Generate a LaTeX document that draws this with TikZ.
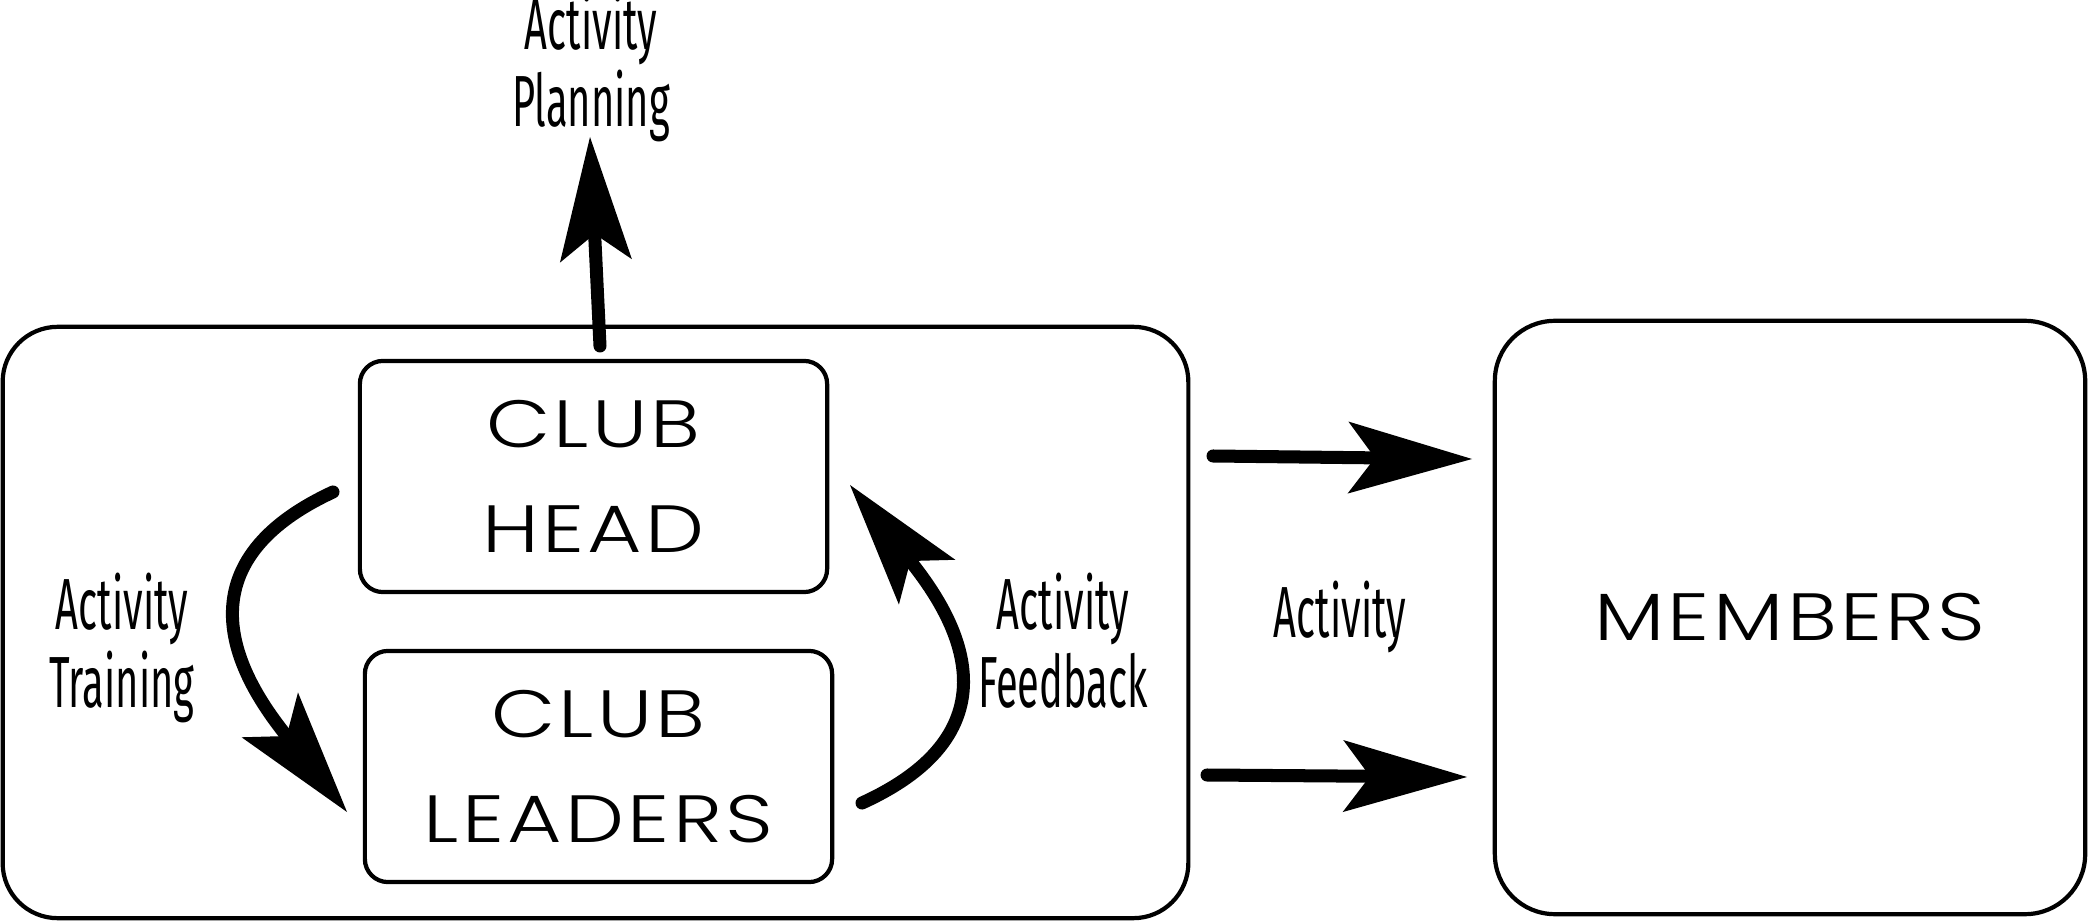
\documentclass[tikz,border=0pt]{standalone}
\usepackage{fontspec}
\usetikzlibrary{arrows.meta}
\newfontfamily\geofont{Poppins}[UprightFont=* Light, FakeStretch=1.25, LetterSpace=5]
\newfontfamily\narrowfont{Fira Sans}[FakeStretch=0.55]
\tikzset{
	box/.style={draw, line width=1.2pt, rounded corners=0.23cm, align=center, font=\geofont\fontsize{19}{29.9}\selectfont},
	note/.style={align=center, font=\narrowfont\fontsize{20.6}{21.9}\selectfont},
	flow/.style={line width=3.7pt, line cap=round, -{Stealth[length=12.4mm, width=7.2mm, inset=2.7mm, line width=0pt]}}
}

\begin{document}
\begin{tikzpicture}[x=0.01cm, y=-0.01cm]
	\useasboundingbox (0,0) rectangle (2088,922);
	% boxes
	\node[box, rounded corners=0.55cm, minimum width=11.85cm, minimum height=5.91cm] (club) at (595.5,622.5) {};
	\node[box, minimum width=4.67cm, minimum height=2.31cm] (head) at (593.5,476.5) {CLUB\\HEAD};
	\node[box, minimum width=4.67cm, minimum height=2.31cm] (leaders) at (598.5,766.5) {CLUB\\LEADERS};
	\node[box, rounded corners=0.6cm, minimum width=5.9cm, minimum height=5.93cm] (members) at (1790,617.5) {MEMBERS};
	% labels (base = last line)
	\node[note, anchor=base] (plan) at (591,127) {Activity\\Planning};
	\node[note, anchor=base] (train) at (122,707) {Activity\\Training};
	\node[note, anchor=base] (back) at (1063,707) {Activity\\Feedback};
	\node[note, anchor=base] (act) at (1340,637) {Activity};
	% arrows
	\coordinate (planfoot) at (600,346);
	\coordinate (plantip) at (590,137);
	\coordinate (trainfoot) at (333,492);
	\coordinate (traintip) at (347,812);
	\coordinate (backfoot) at (862,803);
	\coordinate (backtip) at (850,485);
	\coordinate (uptail) at (1213,456);
	\coordinate (uptip) at (1472,459);
	\coordinate (lowtail) at (1207,775);
	\coordinate (lowtip) at (1467,777);
	\draw[flow] (planfoot) -- (plantip);
	\draw[flow] (trainfoot) .. controls (165,570) and (250,690) .. (traintip);
	\draw[flow] (backfoot) .. controls (1031,726) and (946,606) .. (backtip);
	\draw[flow] (uptail) -- (uptip);
	\draw[flow] (lowtail) -- (lowtip);
\end{tikzpicture}
\end{document}
